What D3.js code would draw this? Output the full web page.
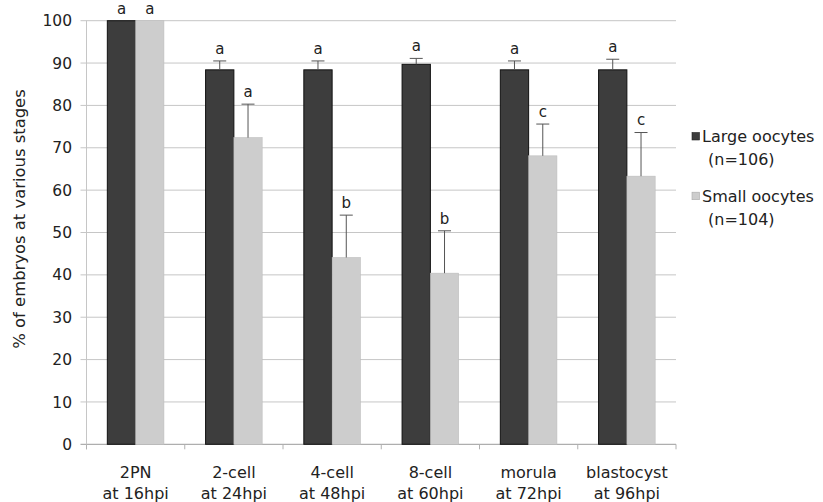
<!DOCTYPE html>
<html>
<head>
<meta charset="utf-8">
<script src="https://cdn.jsdelivr.net/npm/d3@7/dist/d3.min.js"></script>
<style>
  html, body { margin: 0; padding: 0; background: #fff; }
  svg { display: block; font-family: "DejaVu Sans", sans-serif; }
</style>
</head>
<body>
<svg id="chart" width="823" height="502"></svg>
<script>
// Developmental stages (two-line labels)
const stages = ["2PN", "2-cell", "4-cell", "8-cell", "morula", "blastocyst"];
const stageTimes = ["at 16hpi", "at 24hpi", "at 48hpi", "at 60hpi", "at 72hpi", "at 96hpi"];

// Series
const seriesNames = ["Large oocytes", "Small oocytes"];
const seriesN = ["(n=106)", "(n=104)"];
const largeValues = [100, 88.4, 88.4, 89.7, 88.4, 88.4];
const largeErrors = [0, 2.1, 2.1, 1.4, 2.1, 2.5];
const largeLetters = ["a", "a", "a", "a", "a", "a"];
const smallValues = [100, 72.4, 44.1, 40.4, 68.1, 63.3];
const smallErrors = [0, 7.9, 10.0, 10.0, 7.5, 10.3];
const smallLetters = ["a", "a", "b", "b", "c", "c"];

const yTicks = [0, 10, 20, 30, 40, 50, 60, 70, 80, 90, 100];
const yTitle = "% of embryos at various stages";

const colors = ["#3d3d3d", "#cdcdcd"];

const svg = d3.select("#chart");
const plot = { left: 86.5, right: 676, top: 20.7, bottom: 444.3 };

const x0 = d3.scaleBand()
  .domain(stages)
  .range([plot.left, plot.right])
  .paddingInner(0.424)
  .paddingOuter(0.212);

const x1 = d3.scaleBand()
  .domain([0, 1])
  .range([0, x0.bandwidth()]);

const y = d3.scaleLinear().domain([0, 100]).range([plot.bottom, plot.top]);

// Horizontal gridlines with short outward ticks
const grid = svg.append("g");
grid.selectAll("line")
  .data(yTicks)
  .join("line")
  .attr("x1", plot.left - 6)
  .attr("x2", plot.right)
  .attr("y1", d => y(d))
  .attr("y2", d => y(d))
  .attr("stroke", d => d === 0 ? "#9a9a9a" : "#c6c6c6")
  .attr("stroke-width", 1);

// Left axis line
svg.append("line")
  .attr("x1", plot.left).attr("x2", plot.left)
  .attr("y1", y(100)).attr("y2", y(0) + 5)
  .attr("stroke", "#c6c6c6");

// Category boundary ticks under the baseline
const step = x0.step();
const boundaries = d3.range(stages.length + 1).map(i => plot.left + i * step);
svg.append("g").selectAll("line")
  .data(boundaries)
  .join("line")
  .attr("x1", d => d).attr("x2", d => d)
  .attr("y1", y(0)).attr("y2", y(0) + 5)
  .attr("stroke", "#b0b0b0");

// Y tick labels
svg.append("g").selectAll("text")
  .data(yTicks)
  .join("text")
  .attr("x", 72)
  .attr("y", d => y(d))
  .attr("dy", "0.36em")
  .attr("text-anchor", "end")
  .attr("font-size", 15.5)
  .attr("fill", "#222")
  .text(d => d);

// Y axis title
svg.append("text")
  .attr("transform", "translate(19,219) rotate(-90)")
  .attr("dy", "0.36em")
  .attr("text-anchor", "middle")
  .attr("font-size", 16.4)
  .attr("fill", "#222")
  .text(yTitle);

// Bars, error bars and significance letters
const series = [
  { values: largeValues, errors: largeErrors, letters: largeLetters },
  { values: smallValues, errors: smallErrors, letters: smallLetters }
];

series.forEach((s, si) => {
  const g = svg.append("g");
  const rows = stages.map((st, i) => ({ st, v: s.values[i], e: s.errors[i], l: s.letters[i] }));

  g.selectAll("rect")
    .data(rows)
    .join("rect")
    .attr("x", d => x0(d.st) + x1(si))
    .attr("y", d => y(d.v))
    .attr("width", x1.bandwidth())
    .attr("height", d => y(0) - y(d.v))
    .attr("fill", colors[si])
    .attr("stroke", si === 0 ? "#111" : "#bdbdbd")
    .attr("stroke-width", si === 0 ? 1 : 0.6);

  const cx = d => x0(d.st) + x1(si) + x1.bandwidth() / 2;
  const withErr = rows.filter(d => d.e > 0);

  g.selectAll("line.err")
    .data(withErr)
    .join("line")
    .attr("class", "err")
    .attr("x1", cx).attr("x2", cx)
    .attr("y1", d => y(d.v)).attr("y2", d => y(d.v + d.e))
    .attr("stroke", "#555").attr("stroke-width", 1);

  g.selectAll("line.cap")
    .data(withErr)
    .join("line")
    .attr("class", "cap")
    .attr("x1", d => cx(d) - 6.5).attr("x2", d => cx(d) + 6.5)
    .attr("y1", d => y(d.v + d.e)).attr("y2", d => y(d.v + d.e))
    .attr("stroke", "#555").attr("stroke-width", 1);

  g.selectAll("text")
    .data(rows)
    .join("text")
    .attr("x", cx)
    .attr("y", d => y(d.v + d.e) - 12)
    .attr("dy", "0.32em")
    .attr("text-anchor", "middle")
    .attr("font-size", 15)
    .attr("fill", "#222")
    .text(d => d.l);
});

// X category labels (two lines)
const xl = svg.append("g");
stages.forEach((st, i) => {
  const cx = x0(st) + x0.bandwidth() / 2;
  xl.append("text")
    .attr("x", cx).attr("y", 472.7).attr("dy", "0.36em")
    .attr("text-anchor", "middle").attr("font-size", 16).attr("fill", "#222")
    .text(st);
  xl.append("text")
    .attr("x", cx).attr("y", 493.3).attr("dy", "0.36em")
    .attr("text-anchor", "middle").attr("font-size", 16).attr("fill", "#222")
    .text(stageTimes[i]);
});

// Legend
const legendY = [136.3, 196];
const lg = svg.append("g");
seriesNames.forEach((name, i) => {
  lg.append("rect")
    .attr("x", 692).attr("y", legendY[i] - 3.8)
    .attr("width", 7.5).attr("height", 7.5)
    .attr("fill", colors[i])
    .attr("stroke", i === 0 ? "#222" : "#aaa").attr("stroke-width", 0.6);
  lg.append("text")
    .attr("x", 702).attr("y", legendY[i]).attr("dy", "0.36em")
    .attr("font-size", 16).attr("fill", "#222")
    .text(name);
  lg.append("text")
    .attr("x", 708).attr("y", legendY[i] + 23).attr("dy", "0.36em")
    .attr("font-size", 16).attr("fill", "#222")
    .text(seriesN[i]);
});
</script>
</body>
</html>
